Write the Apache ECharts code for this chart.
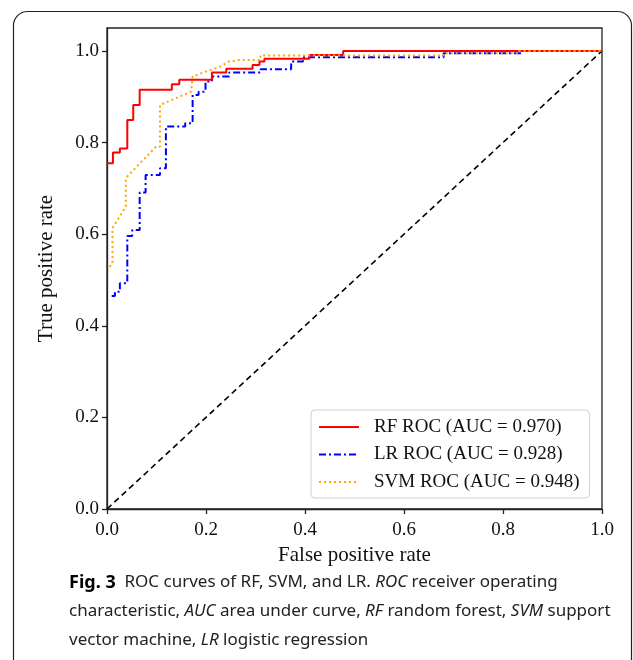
<!DOCTYPE html>
<html>
<head>
<meta charset="utf-8">
<script src="https://cdn.jsdelivr.net/npm/echarts@6/dist/echarts.min.js"></script>
<style>
html,body{margin:0;padding:0;background:#fff;}
#c{width:633px;height:660px;}
</style>
</head>
<body>
<div id="c"></div>
<script>
// ---- data ----
const tickValues = [0, 0.2, 0.4, 0.6, 0.8, 1.0];

// RF ROC (step corners: x where rise happens, new y)
const rfFpr = [0, 0.012, 0.026, 0.041, 0.053, 0.066, 0.131, 0.146, 0.212, 0.241, 0.294, 0.308, 0.318, 0.409, 0.477, 1.0];
const rfTpr = [0.755, 0.778, 0.787, 0.849, 0.882, 0.915, 0.927, 0.937, 0.953, 0.961, 0.969, 0.977, 0.983, 0.991, 1.0, 1.0];

// LR ROC
const lrFpr = [0.0095, 0.016, 0.026, 0.041, 0.051, 0.066, 0.078, 0.107, 0.119, 0.158, 0.173, 0.185, 0.199, 0.212, 0.247, 0.31, 0.372, 0.396, 0.68, 0.838, 1.0];
const lrTpr = [0.465, 0.474, 0.493, 0.596, 0.609, 0.691, 0.729, 0.744, 0.835, 0.842, 0.904, 0.911, 0.933, 0.944, 0.953, 0.96, 0.977, 0.986, 0.995, 1.0, 1.0];

// SVM ROC (fine steps, drawn point to point)
const svmFpr = [0.005, 0.011, 0.011, 0.034, 0.038, 0.038, 0.041, 0.099, 0.107, 0.107, 0.17, 0.173, 0.2, 0.227, 0.247, 0.267, 0.31, 0.31, 0.68, 0.68, 0.83, 0.83, 1.0];
const svmTpr = [0.529, 0.535, 0.613, 0.653, 0.66, 0.718, 0.726, 0.791, 0.791, 0.882, 0.911, 0.944, 0.955, 0.965, 0.977, 0.98, 0.98, 0.99, 0.99, 0.995, 0.995, 1.0, 1.0];

// chance diagonal
const diagX = [0, 1];
const diagY = [0, 1];

const seriesNames = ['RF ROC (AUC = 0.970)', 'LR ROC (AUC = 0.928)', 'SVM ROC (AUC = 0.948)'];
const captionLines = [
  '{b|Fig. 3}  {n|ROC curves of RF, SVM, and LR. }{i|ROC}{n| receiver operating}',
  '{n|characteristic, }{i|AUC}{n| area under curve, }{i|RF}{n| random forest, }{i|SVM}{n| support}',
  '{n|vector machine, }{i|LR}{n| logistic regression}'
];

const zip = (xs, ys) => xs.map((x, i) => [x, ys[i]]);
const serif = 'Liberation Serif';
const capFont = 'Noto Sans';
const capSize = 17;
const rich = {
  b: {fontFamily: capFont, fontWeight: 'bold', fontSize: capSize + 1, color: '#000', lineHeight: 29},
  n: {fontFamily: capFont, fontWeight: 'normal', fontSize: capSize, color: '#222', lineHeight: 29},
  i: {fontFamily: capFont, fontWeight: 'normal', fontStyle: 'italic', fontSize: capSize, color: '#222', lineHeight: 29}
};
const capTops = [568, 597, 626];

const chart = echarts.init(document.getElementById('c'), null, {renderer: 'canvas'});
chart.setOption({
  animation: false,
  backgroundColor: '#fff',
  title: captionLines.map((t, i) => ({
    text: t, left: 69, top: capTops[i], padding: 0,
    textStyle: {rich: rich, fontSize: capSize, fontWeight: 'normal', fontFamily: capFont}
  })),
  grid: {left: 107, right: 31, top: 28, bottom: 151, show: true, borderColor: '#222', borderWidth: 1.3, backgroundColor: 'transparent'},
  legend: {
    orient: 'vertical', left: 311, top: 410,
    padding: [7, 10, 6, 7],
    itemWidth: 40, itemHeight: 14, itemGap: 7.5,
    borderColor: '#d0d0d0', borderWidth: 1, borderRadius: 4, backgroundColor: 'rgba(255,255,255,0.85)',
    itemStyle: {color: 'transparent', borderColor: 'transparent', borderWidth: 0},
    textStyle: {fontFamily: serif, fontSize: 19, color: '#111', lineHeight: 20, padding: [0, 0, 0, 10]},
    data: seriesNames
  },
  xAxis: {
    type: 'value', min: 0, max: 1, interval: 0.2,
    name: 'False positive rate', nameLocation: 'middle', nameGap: 31,
    nameTextStyle: {fontFamily: serif, fontSize: 21, color: '#111'},
    axisLine: {show: true, onZero: false, lineStyle: {color: '#222', width: 1.3}},
    axisTick: {show: true, inside: false, length: 5, lineStyle: {color: '#222', width: 1.3}},
    axisLabel: {fontFamily: serif, fontSize: 19, color: '#111', margin: 12, formatter: v => v.toFixed(1)},
    splitLine: {show: false}
  },
  yAxis: {
    type: 'value', min: 0, max: 1.05, interval: 0.2,
    name: 'True positive rate', nameLocation: 'middle', nameGap: 50, nameRotate: 90,
    nameTextStyle: {fontFamily: serif, fontSize: 21, color: '#111'},
    axisLine: {show: true, onZero: false, lineStyle: {color: '#222', width: 1.3}},
    axisTick: {show: true, inside: false, length: 5, customValues: tickValues, lineStyle: {color: '#222', width: 1.3}},
    axisLabel: {fontFamily: serif, fontSize: 19, color: '#111', margin: 8, customValues: tickValues, formatter: v => v.toFixed(1)},
    splitLine: {show: false}
  },
  series: [
    {
      name: seriesNames[0], type: 'line', step: 'end', symbol: 'none', z: 4,
      data: zip(rfFpr, rfTpr),
      lineStyle: {color: '#ff0000', width: 2, type: 'solid'},
      itemStyle: {color: '#ff0000'}
    },
    {
      name: seriesNames[1], type: 'line', step: 'end', symbol: 'none', z: 3,
      data: zip(lrFpr, lrTpr),
      lineStyle: {color: '#0000ff', width: 2, type: [7, 3, 2, 3]},
      itemStyle: {color: '#0000ff'}
    },
    {
      name: seriesNames[2], type: 'line', symbol: 'none', z: 5,
      data: zip(svmFpr, svmTpr),
      lineStyle: {color: '#ffa500', width: 2, type: [2, 3]},
      itemStyle: {color: '#ffa500'}
    },
    {
      name: 'chance', type: 'line', symbol: 'none', z: 2,
      data: zip(diagX, diagY),
      lineStyle: {color: '#000', width: 1.6, type: [6, 4]},
      tooltip: {show: false}
    }
  ],
  graphic: [{
    type: 'rect', silent: true, z: -1,
    shape: {x: 13.5, y: 11.5, width: 618, height: 670, r: 14},
    style: {fill: 'none', stroke: '#222', lineWidth: 1.2}
  }]
});
</script>
</body>
</html>
